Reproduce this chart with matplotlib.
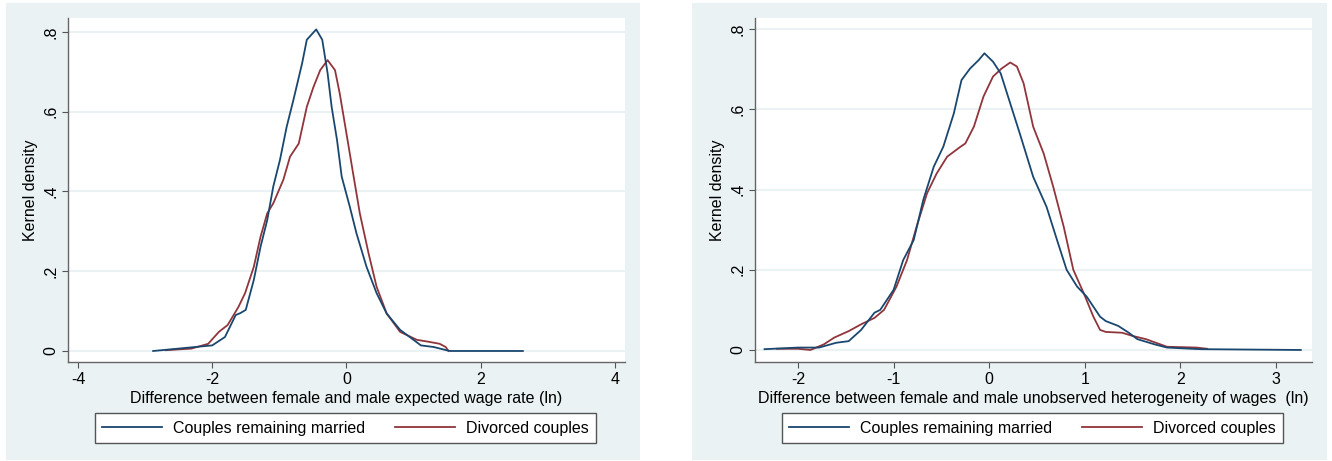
import numpy as np
import matplotlib.pyplot as plt
from matplotlib.patches import Rectangle

plt.rcParams['font.family'] = ['Liberation Sans', 'DejaVu Sans']

# left panel: expected wage rate gap
exp_married_x = [-2.88, -2.0, -1.81, -1.65, -1.58, -1.50, -1.38, -1.28, -1.18, -1.09, -0.99,
                 -0.89, -0.79, -0.66, -0.59, -0.45, -0.36, -0.28, -0.22, -0.14, -0.07, 0.05,
                 0.15, 0.30, 0.45, 0.60, 0.80, 1.0, 1.11, 1.30, 1.49, 1.55, 2.0, 2.63]
exp_married_y = [0.0, 0.014, 0.035, 0.09, 0.095, 0.103, 0.178, 0.261, 0.328, 0.412, 0.479,
                 0.562, 0.629, 0.721, 0.78, 0.806, 0.78, 0.696, 0.612, 0.529, 0.437, 0.362,
                 0.295, 0.211, 0.145, 0.094, 0.053, 0.028, 0.014, 0.01, 0.002, 0.0, 0.0, 0.0]
exp_divorced_x = [-2.69, -2.31, -2.06, -1.90, -1.77, -1.61, -1.51, -1.38, -1.28, -1.18, -1.09,
                  -0.94, -0.84, -0.71, -0.59, -0.49, -0.39, -0.28, -0.17, -0.10, 0.0, 0.10,
                  0.20, 0.33, 0.45, 0.60, 0.80, 1.05, 1.23, 1.39, 1.48, 1.52]
exp_divorced_y = [0.002, 0.006, 0.018, 0.048, 0.065, 0.11, 0.145, 0.211, 0.286, 0.345, 0.37,
                  0.429, 0.487, 0.52, 0.612, 0.662, 0.704, 0.729, 0.704, 0.646, 0.546, 0.445,
                  0.345, 0.245, 0.161, 0.094, 0.048, 0.028, 0.023, 0.018, 0.01, 0.0]

# right panel: unobserved heterogeneity gap
het_married_x = [-2.35, -2.0, -1.78, -1.60, -1.47, -1.34, -1.20, -1.14, -1.0, -0.90, -0.79,
                 -0.69, -0.58, -0.48, -0.37, -0.29, -0.20, -0.11, -0.05, 0.04, 0.12, 0.22,
                 0.32, 0.46, 0.60, 0.71, 0.81, 0.92, 1.02, 1.16, 1.22, 1.35, 1.46, 1.55,
                 1.73, 1.86, 2.21, 3.26]
het_married_y = [0.002, 0.006, 0.006, 0.018, 0.022, 0.05, 0.093, 0.10, 0.15, 0.224, 0.274,
                 0.374, 0.457, 0.507, 0.59, 0.673, 0.702, 0.723, 0.74, 0.719, 0.69, 0.615,
                 0.54, 0.432, 0.357, 0.274, 0.2, 0.158, 0.133, 0.083, 0.072, 0.06, 0.043,
                 0.027, 0.014, 0.006, 0.002, 0.0]
het_divorced_x = [-2.22, -2.0, -1.87, -1.73, -1.62, -1.47, -1.34, -1.20, -1.10, -0.97, -0.86,
                  -0.76, -0.65, -0.55, -0.44, -0.30, -0.25, -0.16, -0.06, 0.04, 0.13, 0.22,
                  0.29, 0.36, 0.46, 0.57, 0.67, 0.78, 0.88, 0.99, 1.09, 1.16, 1.22, 1.39,
                  1.50, 1.64, 1.86, 2.17, 2.28]
het_divorced_y = [0.003, 0.003, 0.0, 0.014, 0.031, 0.047, 0.064, 0.08, 0.10, 0.158, 0.224,
                  0.307, 0.391, 0.44, 0.482, 0.507, 0.515, 0.557, 0.632, 0.682, 0.702, 0.717,
                  0.707, 0.665, 0.557, 0.49, 0.407, 0.307, 0.2, 0.141, 0.083, 0.05, 0.045,
                  0.043, 0.035, 0.027, 0.008, 0.006, 0.003]

yticks = [0, 0.2, 0.4, 0.6, 0.8]
ytick_labels = ['0', '.2', '.4', '.6', '.8']
left_xticks = [-4, -2, 0, 2, 4]
right_xticks = [-2, -1, 0, 1, 2, 3]

navy = '#1A476F'
maroon = '#90353B'
bg = '#EAF2F3'

fig = plt.figure(figsize=(13.32, 4.61), dpi=100)
# grey graph regions behind each panel
fig.patches.append(Rectangle((6 / 1332, 1 - 460 / 461), 634 / 1332, 457 / 461,
                             transform=fig.transFigure, facecolor=bg, edgecolor='none', zorder=-10))
fig.patches.append(Rectangle((692 / 1332, 1 - 460 / 461), 635 / 1332, 457 / 461,
                             transform=fig.transFigure, facecolor=bg, edgecolor='none', zorder=-10))

ax1 = fig.add_axes([68 / 1332, 1 - 362 / 461, 557 / 1332, 344 / 461])
ax2 = fig.add_axes([755 / 1332, 1 - 362 / 461, 557 / 1332, 344 / 461])

panels = [
    (ax1, exp_married_x, exp_married_y, exp_divorced_x, exp_divorced_y, left_xticks,
     (-4.149, 4.152), (-0.0276, 0.8346),
     'Difference between female and male expected wage rate (ln)', 345.5),
    (ax2, het_married_x, het_married_y, het_divorced_x, het_divorced_y, right_xticks,
     (-2.45, 3.377), (-0.03, 0.828),
     'Difference between female and male unobserved heterogeneity of wages  (ln)', 1032.5),
]

for ax, mx, my, dx, dy, xt, xl, yl, xlabel, leg_cx in panels:
    ax.set_facecolor('white')
    for y in yticks:
        ax.axhline(y, color=bg, lw=1.5, zorder=1)
    ax.plot(mx, my, color=navy, lw=1.3, label='Couples remaining married', zorder=3)
    ax.plot(dx, dy, color=maroon, lw=1.3, label='Divorced couples', zorder=2)
    ax.set_xlim(*xl)
    ax.set_ylim(*yl)
    ax.set_xticks(xt)
    ax.set_xticklabels([str(v) for v in xt])
    ax.set_yticks(yticks)
    ax.set_yticklabels(ytick_labels, rotation=90, va='center')
    ax.tick_params(axis='both', direction='out', length=4, width=0.8, color='#555555',
                   labelsize=11.5, pad=3)
    for s in ['top', 'right']:
        ax.spines[s].set_visible(False)
    for s in ['left', 'bottom']:
        ax.spines[s].set_color('#666666')
        ax.spines[s].set_linewidth(1.0)
    ax.set_xlabel(xlabel, fontsize=11.5, labelpad=3)
    ax.set_ylabel('Kernel density', fontsize=11.5, labelpad=4)
    ax.legend(loc='center', ncol=2, fontsize=11.5, frameon=True,
              fancybox=False, edgecolor='#555555', facecolor='white', framealpha=1,
              handlelength=3.75, borderpad=0.45, handletextpad=0.7, columnspacing=1.9,
              bbox_to_anchor=(leg_cx / 1332, 1 - 428 / 461),
              bbox_transform=fig.transFigure)

fig.savefig('out.png', dpi=100)
